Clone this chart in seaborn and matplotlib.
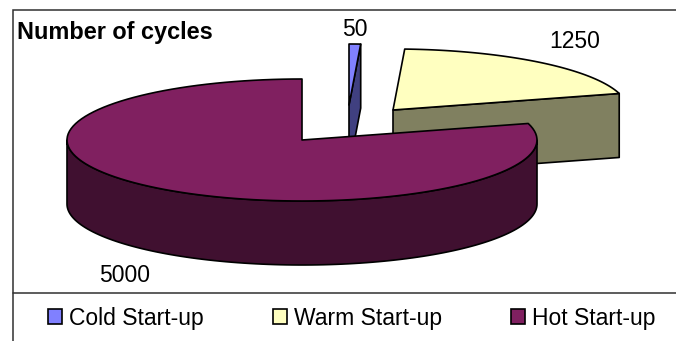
import numpy as np
import matplotlib
matplotlib.use("Agg")
import matplotlib.pyplot as plt
from matplotlib.patches import Patch, Polygon
import seaborn as sns

# Start-up cycle counts, drawn clockwise from twelve o'clock
categories = ["Cold Start-up", "Warm Start-up", "Hot Start-up"]
cycles = [50, 1250, 5000]
colours = ["#8080FF", "#FFFFC0", "#802060"]
chart_title = "Number of cycles"

sns.set_theme(style="white")
plt.rcParams["font.family"] = ["Liberation Sans", "DejaVu Sans"]
palette = sns.color_palette(colours)

W, H = 676, 341
fig = plt.figure(figsize=(W / 100, H / 100), dpi=100)
ax = fig.add_axes([0, 0, 1, 1])
ax.set_xlim(0, W)
ax.set_ylim(H, 0)
ax.axis("off")

# Pie projection, in pixels
RX, RY, DEPTH = 235, 61, 64
CENTRES = [(349, 105), (393, 110), (302, 140)]
LABEL_POS = [(355, 29), (575, 41), (125, 275)]
EDGE = dict(edgecolor="black", linewidth=1.2, joinstyle="round")
FONT = 16.5


def rim(cx, cy, a0, a1, n=120):
    """Points along the ellipse, angles in degrees clockwise from the top."""
    t = np.radians(np.linspace(a0, a1, n))
    return np.column_stack([cx + RX * np.sin(t), cy - RY * np.cos(t)])


def draw_slice(cx, cy, a0, a1, top_colour):
    side = tuple(c * 0.5 for c in top_colour)
    # End wall of the slice faces the viewer on the right half
    if a1 < 180:
        p = rim(cx, cy, a1, a1, 1)[0]
        wall = [(cx, cy), p, (p[0], p[1] + DEPTH), (cx, cy + DEPTH)]
        ax.add_patch(Polygon(wall, closed=True, facecolor=side, **EDGE))
    # Outer skirt for the front half of the ellipse
    lo, hi = max(a0, 90), min(a1, 270)
    if lo < hi:
        arc = rim(cx, cy, lo, hi)
        skirt = np.vstack([arc, arc[::-1] + [0, DEPTH]])
        ax.add_patch(Polygon(skirt, closed=True, facecolor=side, **EDGE))
    top = np.vstack([[(cx, cy)], rim(cx, cy, a0, a1)])
    ax.add_patch(Polygon(top, closed=True, facecolor=top_colour, **EDGE))


spans = np.cumsum([0] + cycles) / sum(cycles) * 360
for i, value in enumerate(cycles):
    draw_slice(*CENTRES[i], spans[i], spans[i + 1], palette[i])
    ax.text(*LABEL_POS[i], str(value), fontsize=FONT, color="black",
            ha="center", va="center")

ax.text(17, 32, chart_title, fontsize=16.9, fontweight="bold", color="black",
        ha="left", va="center")

# Chart frame and the rule above the legend
frame = "#303030"
ax.plot([W, 12.5, 12.5], [10, 10, H], color=frame, lw=1.1, solid_joinstyle="miter")
ax.plot([12.5, W], [293, 293], color=frame, lw=1.1)

handles = [Patch(facecolor=c, edgecolor="black", linewidth=1.2) for c in palette]
ax.legend(handles, categories, ncol=3, frameon=False, fontsize=FONT,
          loc="center left", bbox_to_anchor=(48, 318), bbox_transform=ax.transData,
          borderaxespad=0, borderpad=0, handlelength=0.61, handleheight=0.61,
          handletextpad=0.3, columnspacing=3.03, labelcolor="black")

fig.savefig("out.png", dpi=100)
